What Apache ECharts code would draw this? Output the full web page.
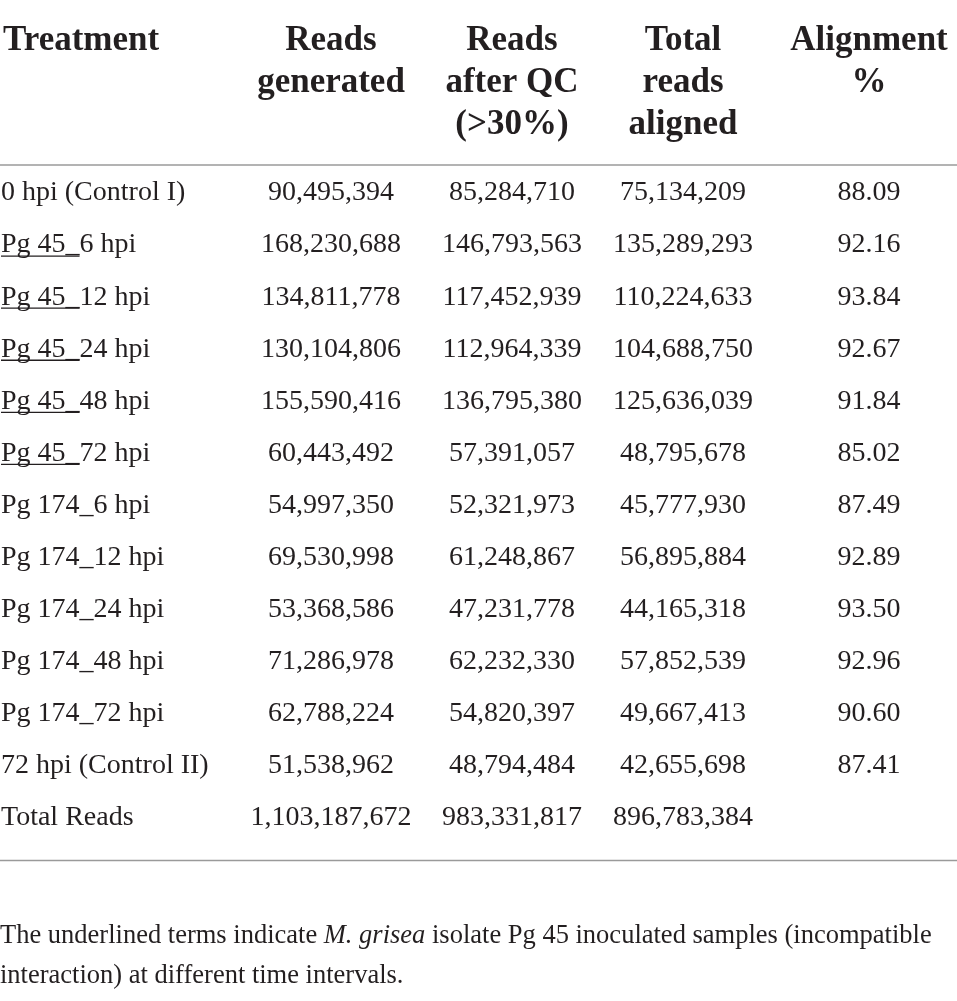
<!DOCTYPE html>
<html>
<head>
	<meta charset="UTF-8">
	<title>Reads table</title>
	<script src="https://cdn.jsdelivr.net/npm/echarts@6/dist/echarts.min.js"></script>
	<style>
		html, body { margin: 0; padding: 0; background: #fff; }
		#table { width: 957px; height: 1001px; }
	</style>
</head>
<body>
	<div id="table"></div>
	<script>
		// table content
		var treatments = ['0 hpi (Control I)', 'Pg 45_6 hpi', 'Pg 45_12 hpi', 'Pg 45_24 hpi', 'Pg 45_48 hpi',
			'Pg 45_72 hpi', 'Pg 174_6 hpi', 'Pg 174_12 hpi', 'Pg 174_24 hpi', 'Pg 174_48 hpi',
			'Pg 174_72 hpi', '72 hpi (Control II)', 'Total Reads'];
		var readsGenerated = [90495394, 168230688, 134811778, 130104806, 155590416, 60443492, 54997350,
			69530998, 53368586, 71286978, 62788224, 51538962, 1103187672];
		var readsAfterQC = [85284710, 146793563, 117452939, 112964339, 136795380, 57391057, 52321973,
			61248867, 47231778, 62232330, 54820397, 48794484, 983331817];
		var totalAligned = [75134209, 135289293, 110224633, 104688750, 125636039, 48795678, 45777930,
			56895884, 44165318, 57852539, 49667413, 42655698, 896783384];
		var alignmentPct = [88.09, 92.16, 93.84, 92.67, 91.84, 85.02, 87.49, 92.89, 93.50, 92.96, 90.60, 87.41, null];
		var underlinedRows = [1, 2, 3, 4, 5];
		var underlinedPrefix = 'Pg 45_';
		var headers = [['Treatment'], ['Reads', 'generated'], ['Reads', 'after QC', '(>30%)'],
			['Total', 'reads', 'aligned'], ['Alignment', '%']];
		var note = 'The underlined terms indicate {i|M. grisea} isolate Pg 45 inoculated samples (incompatible\ninteraction) at different time intervals.';

		// layout
		var colX = [0, 331, 512, 683, 869];
		var colAlign = ['left', 'center', 'center', 'center', 'center'];
		var ink = '#231f20';
		var rule = '#9a9a9a';
		var font = '"Liberation Serif", "Times New Roman", serif';
		var bodySize = 28;
		var noteSize = 26.5;

		function fmt(v, col) {
			if (v === null || v === undefined) return '';
			if (col === 4) return v.toFixed(2);
			return v.toLocaleString('en-US');
		}

		var columns = [treatments, readsGenerated, readsAfterQC, totalAligned, alignmentPct];
		var cells = [];
		for (var r = 0; r < treatments.length; r++) {
			for (var c = 0; c < columns.length; c++) {
				cells.push([c, r, c === 0 ? columns[c][r] : fmt(columns[c][r], c)]);
			}
		}

		var measureCtx = document.createElement('canvas').getContext('2d');
		measureCtx.font = bodySize + 'px ' + font;
		var underlineWidth = measureCtx.measureText(underlinedPrefix).width;

		var chart = echarts.init(document.getElementById('table'), null, { renderer: 'canvas' });

		var headerGraphics = [];
		headers.forEach(function (lines, c) {
			headerGraphics.push({
				type: 'text',
				x: c === 0 ? colX[0] + 3 : colX[c],
				y: 20,
				style: {
					text: lines.join('\n'),
					fill: ink,
					font: 'bold 35px ' + font,
					lineHeight: 42,
					align: colAlign[c],
					verticalAlign: 'top'
				}
			});
		});

		chart.setOption({
			animation: false,
			grid: { left: 0, right: 0, top: 164, bottom: 160 },
			xAxis: { type: 'value', min: 0, max: 957, show: false },
			yAxis: { type: 'category', inverse: true, data: treatments, show: false },
			graphic: headerGraphics.concat([
				{ type: 'line', shape: { x1: 0, y1: 165, x2: 957, y2: 165 }, style: { stroke: rule, lineWidth: 1.5 } },
				{ type: 'line', shape: { x1: 0, y1: 860.5, x2: 957, y2: 860.5 }, style: { stroke: rule, lineWidth: 1.5 } },
				{
					type: 'text', x: 0, y: 916,
					style: {
						text: note,
						fill: ink,
						font: noteSize + 'px ' + font,
						lineHeight: 40,
						verticalAlign: 'top',
						rich: { i: { fontStyle: 'italic', fontSize: noteSize, fontFamily: font, fill: ink } }
					}
				}
			]),
			series: [{
				type: 'custom',
				data: cells,
				encode: { x: 0, y: 1 },
				renderItem: function (params, api) {
					var col = api.value(0);
					var row = api.value(1);
					var text = cells[params.dataIndex][2];
					var p = api.coord([colX[col], row]);
					var y = p[1] + 3;
					var children = [{
						type: 'text',
						x: col === 0 ? p[0] + 1 : p[0],
						y: y,
						style: {
							text: text,
							fill: ink,
							font: bodySize + 'px ' + font,
							align: colAlign[col],
							verticalAlign: 'middle'
						}
					}];
					if (col === 0 && underlinedRows.indexOf(row) >= 0) {
						children.push({
							type: 'line',
							shape: { x1: p[0] + 1, y1: y + 11, x2: p[0] + 1 + underlineWidth, y2: y + 11 },
							style: { stroke: ink, lineWidth: 1.3 }
						});
					}
					return { type: 'group', children: children };
				}
			}]
		});
	</script>
</body>
</html>
